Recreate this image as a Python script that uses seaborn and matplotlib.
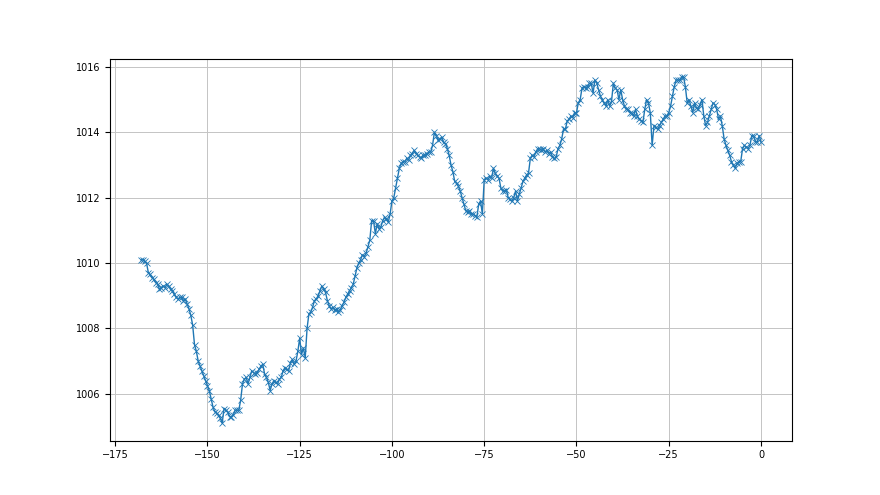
import numpy as np
import pandas as pd
import matplotlib
matplotlib.use('Agg')
import matplotlib.pyplot as plt
import seaborn as sns

# pressure readings every half hour, oldest first (last one is "now")
pressure = [
    1010.1, 1010.1, 1010.05, 1010.0, 1009.7, 1009.65, 1009.55, 1009.5, 1009.4, 1009.35,
    1009.2, 1009.25, 1009.3, 1009.25, 1009.35, 1009.3, 1009.2, 1009.15, 1009.05, 1008.95,
    1008.9, 1008.95, 1008.95, 1008.85, 1008.9, 1008.75, 1008.6, 1008.4, 1008.1, 1007.5,
    1007.3, 1007.0, 1006.85, 1006.7, 1006.55, 1006.4, 1006.25, 1006.1, 1005.85, 1005.6,
    1005.45, 1005.4, 1005.35, 1005.25, 1005.1, 1005.55, 1005.5, 1005.45, 1005.3, 1005.3,
    1005.35, 1005.5, 1005.5, 1005.5, 1005.8, 1006.3, 1006.45, 1006.5, 1006.3, 1006.5,
    1006.7, 1006.65, 1006.6, 1006.65, 1006.75, 1006.85, 1006.9, 1006.6, 1006.5, 1006.35,
    1006.1, 1006.3, 1006.4, 1006.35, 1006.3, 1006.45, 1006.5, 1006.7, 1006.8, 1006.75,
    1006.7, 1006.95, 1007.05, 1006.9, 1007.0, 1007.3, 1007.7, 1007.2, 1007.4, 1007.1,
    1008.0, 1008.45, 1008.5, 1008.65, 1008.85, 1008.9, 1009.0, 1009.15, 1009.3, 1009.2,
    1009.1, 1008.85, 1008.7, 1008.6, 1008.65, 1008.55, 1008.6, 1008.5, 1008.55, 1008.7,
    1008.8, 1008.95, 1009.05, 1009.15, 1009.25, 1009.35, 1009.6, 1009.85, 1010.0, 1010.1,
    1010.25, 1010.2, 1010.3, 1010.5, 1010.7, 1011.3, 1011.3, 1010.9, 1011.2, 1011.05,
    1011.1, 1011.3, 1011.4, 1011.35, 1011.25, 1011.5, 1011.9, 1012.0, 1012.3, 1012.6,
    1012.9, 1013.05, 1013.1, 1013.1, 1013.2, 1013.15, 1013.3, 1013.35, 1013.45, 1013.35,
    1013.3, 1013.25, 1013.2, 1013.3, 1013.3, 1013.35, 1013.4, 1013.4, 1013.6, 1014.0,
    1013.9, 1013.75, 1013.8, 1013.85, 1013.7, 1013.65, 1013.5, 1013.3, 1013.0, 1012.8,
    1012.5, 1012.45, 1012.35, 1012.2, 1012.0, 1011.8, 1011.6, 1011.55, 1011.6, 1011.5,
    1011.5, 1011.45, 1011.4, 1011.8, 1011.9, 1011.5, 1012.55, 1012.6, 1012.55, 1012.65,
    1012.6, 1012.9, 1012.75, 1012.65, 1012.6, 1012.3, 1012.2, 1012.2, 1012.25, 1012.0,
    1011.95, 1011.9, 1012.0, 1012.2, 1011.9, 1012.1, 1012.3, 1012.5, 1012.6, 1012.7,
    1012.75, 1013.2, 1013.3, 1013.25, 1013.4, 1013.5, 1013.5, 1013.45, 1013.5, 1013.4,
    1013.45, 1013.35, 1013.4, 1013.25, 1013.2, 1013.25, 1013.5, 1013.6, 1013.8, 1014.1,
    1014.1, 1014.35, 1014.4, 1014.5, 1014.45, 1014.6, 1014.6, 1014.9, 1015.0, 1015.35,
    1015.4, 1015.35, 1015.4, 1015.5, 1015.5, 1015.2, 1015.6, 1015.5, 1015.3, 1015.1,
    1015.0, 1014.9, 1014.8, 1015.0, 1014.8, 1014.95, 1015.5, 1015.35, 1015.3, 1015.0,
    1015.3, 1015.0, 1014.8, 1014.7, 1014.7, 1014.6, 1014.6, 1014.5, 1014.7, 1014.5,
    1014.4, 1014.35, 1014.3, 1014.7, 1015.0, 1014.9, 1014.6, 1013.6, 1014.2, 1014.15,
    1014.1, 1014.2, 1014.3, 1014.4, 1014.5, 1014.5, 1014.6, 1014.8, 1015.1, 1015.4,
    1015.6, 1015.6, 1015.6, 1015.7, 1015.7, 1015.4, 1014.9, 1015.0, 1014.8, 1014.6,
    1014.9, 1014.75, 1014.7, 1014.85, 1015.0, 1014.5, 1014.2, 1014.3, 1014.5, 1014.7,
    1014.9, 1014.85, 1014.7, 1014.4, 1014.5, 1014.2, 1013.8, 1013.6, 1013.45, 1013.3,
    1013.1, 1013.0, 1012.9, 1013.05, 1013.1, 1013.1, 1013.5, 1013.6, 1013.55, 1013.5,
    1013.6, 1013.9, 1013.9, 1013.7, 1013.7, 1013.9, 1013.7,
]
step_hours = 0.5

hours = (np.arange(len(pressure)) - (len(pressure) - 1)) * step_hours
df = pd.DataFrame({'hours': hours, 'pressure': pressure})

fig, ax = plt.subplots(figsize=(8.8, 4.95), dpi=100)
sns.lineplot(data=df, x='hours', y='pressure', ax=ax, color='#1f77b4',
             linewidth=1.0, marker='x', markersize=4.5, markeredgewidth=0.6,
             markeredgecolor='#1f77b4')
ax.grid(True, color='#c4c4c4', linewidth=0.7)
ax.set_axisbelow(True)
ax.set_xlabel('')
ax.set_ylabel('')
ax.tick_params(labelsize=7)
plt.savefig('out.png', dpi=100)
